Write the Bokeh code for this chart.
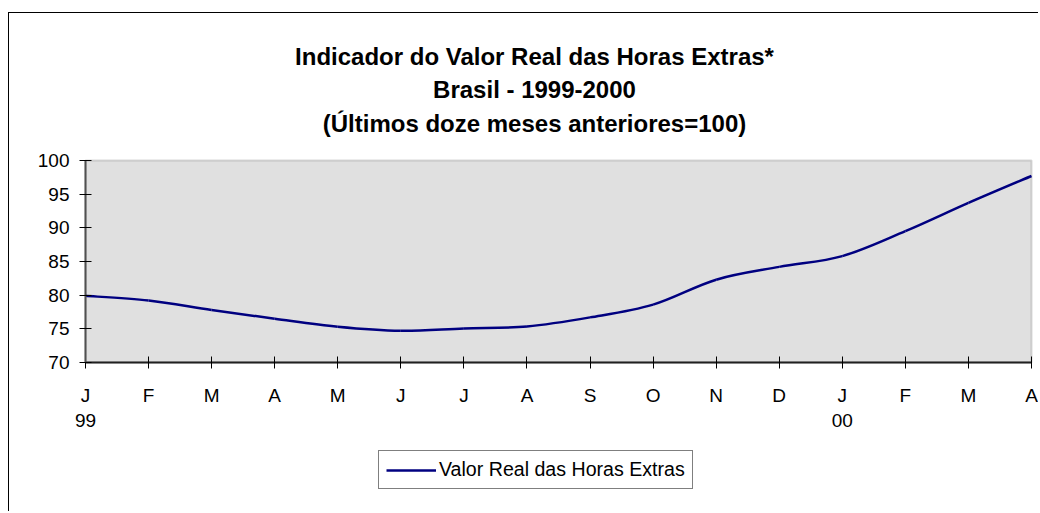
import numpy as np
from bokeh.plotting import figure
from bokeh.models import Range1d, FixedTicker, Label, Legend, LegendItem, BoxAnnotation
from bokeh.embed import file_html
from bokeh.resources import INLINE

month_labels = ["J", "F", "M", "A", "M", "J", "J", "A", "S", "O", "N", "D", "J", "F", "M", "A"]
year_labels = ["99", "", "", "", "", "", "", "", "", "", "", "", "00", "", "", ""]
values = [79.9, 79.2, 77.8, 76.5, 75.3, 74.7, 75.05, 75.35, 76.7, 78.6, 82.3, 84.2, 85.8, 89.5, 93.7, 97.7]
y_ticks = [70, 75, 80, 85, 90, 95, 100]
series_name = "Valor Real das Horas Extras"
title_lines = ["Indicador do Valor Real das Horas Extras*",
               "Brasil - 1999-2000",
               "(Últimos doze meses anteriores=100)"]

FONT = "Liberation Sans"
LINE_COLOR = "#000080"

# ---- layout (pixels) ----
W, H = 1030, 499                 # canvas size
CANVAS_LEFT, CANVAS_TOP = 9, 13  # page position of the canvas
PLOT_L, PLOT_R, PLOT_T, PLOT_B = 85, 1031, 160, 362   # plot area on the page
Y_MIN, Y_MAX = 70, 100
X_MIN, X_MAX = 0, len(values) - 1
frame_left, frame_right = CANVAS_LEFT, CANVAS_LEFT + W
frame_top, frame_bottom = CANVAS_TOP, CANVAS_TOP + H
ppu_y = (PLOT_B - PLOT_T) / (Y_MAX - Y_MIN)
ppu_x = (PLOT_R - PLOT_L) / (X_MAX - X_MIN)
y_start = Y_MIN - (frame_bottom - PLOT_B) / ppu_y
y_end = Y_MAX + (PLOT_T - frame_top) / ppu_y
x_start = X_MIN - (PLOT_L - frame_left) / ppu_x
x_end = X_MAX + (frame_right - PLOT_R) / ppu_x

xs = np.arange(len(values), dtype=float)
ys = np.array(values, dtype=float)

# smooth curve (Catmull-Rom -> cubic Bezier) through the data points
xp = np.concatenate([[xs[0]], xs, [xs[-1]]])
yp = np.concatenate([[ys[0]], ys, [ys[-1]]])
n = len(xs) - 1
x0 = xs[:-1]; y0 = ys[:-1]; x1 = xs[1:]; y1 = ys[1:]
cx0 = x0 + (xp[2:n + 2] - xp[0:n]) / 6.0
cy0 = y0 + (yp[2:n + 2] - yp[0:n]) / 6.0
cx1 = x1 - (xp[3:n + 3] - xp[1:n + 1]) / 6.0
cy1 = y1 - (yp[3:n + 3] - yp[1:n + 1]) / 6.0

p = figure(width=W, height=H, output_backend="svg", toolbar_location=None,
           x_range=Range1d(x_start, x_end), y_range=Range1d(y_start, y_end),
           min_border_left=0, min_border_right=0, min_border_top=0, min_border_bottom=0)
p.styles = {"margin-left": "8px", "margin-top": "12px",
            "border-top": "1px solid #000000", "border-left": "1px solid #000000"}

p.background_fill_color = "#FFFFFF"
p.border_fill_color = "#FFFFFF"
p.outline_line_color = None
p.xgrid.visible = False
p.ygrid.visible = False

# grey plot area
p.add_layout(BoxAnnotation(left=X_MIN, right=X_MAX, bottom=Y_MIN, top=Y_MAX,
                           fill_color="#E0E0E0", fill_alpha=1,
                           line_color="#808080", line_width=2, level="underlay"))

r = p.bezier(x0=x0, y0=y0, x1=x1, y1=y1, cx0=cx0, cy0=cy0, cx1=cx1, cy1=cy1,
             line_color=LINE_COLOR, line_width=2.5)

# title lines (screen offsets from the frame's bottom-left corner)
title_center = 534 - frame_left
for txt, base in zip(title_lines, [56, 89, 123]):
    p.add_layout(Label(x=title_center, y=frame_bottom - base, x_units="screen", y_units="screen",
                       text=txt, text_align="center", text_baseline="alphabetic",
                       text_font=FONT, text_font_size="24px", text_font_style="bold",
                       text_color="#000000"))

# axes
p.yaxis.ticker = FixedTicker(ticks=y_ticks)
p.yaxis.bounds = (Y_MIN, Y_MAX)
p.yaxis.fixed_location = X_MIN
p.xaxis.ticker = FixedTicker(ticks=list(range(len(values))))
p.xaxis.bounds = (X_MIN, X_MAX)
p.xaxis.fixed_location = Y_MIN
p.xaxis.major_label_overrides = {i: (m + "\n" + y if y else m)
                                 for i, (m, y) in enumerate(zip(month_labels, year_labels))}
for ax in (p.xaxis[0], p.yaxis[0]):
    ax.major_label_text_font = FONT
    ax.major_label_text_font_size = "19px"
    ax.major_label_text_color = "#000000"
    ax.major_tick_in = 6
    ax.major_tick_out = 6
    ax.major_tick_line_color = "#000000"
    ax.major_tick_line_width = 1
    ax.minor_tick_line_color = None
    ax.axis_line_width = 2
p.yaxis.axis_line_color = "#505050"
p.xaxis.axis_line_color = "#202020"
p.yaxis.major_label_standoff = 10
p.xaxis.major_label_standoff = 16
p.xaxis.major_label_text_line_height = 1.2

LEG_L, LEG_B = 378, 489
legend = Legend(items=[LegendItem(label=series_name, renderers=[r])],
                location=(LEG_L - frame_left, frame_bottom - LEG_B), orientation="vertical",
                border_line_color="#000000", border_line_width=1,
                background_fill_color="#FFFFFF", background_fill_alpha=1,
                label_text_font=FONT, label_text_font_size="19.6px", label_text_color="#000000",
                glyph_width=50, glyph_height=20, label_standoff=3, padding=7, spacing=0, margin=0)
p.add_layout(legend, "center")

open("out.html", "w").write(file_html(p, INLINE))
